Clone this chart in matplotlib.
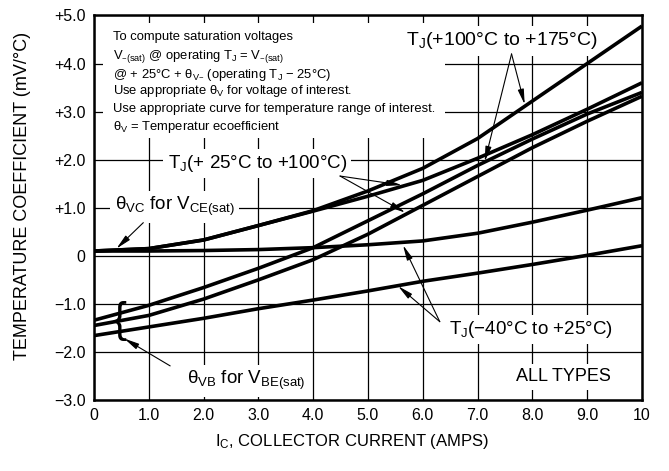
import matplotlib
matplotlib.use("Agg")
import matplotlib.pyplot as plt
from matplotlib.patches import Rectangle

plt.rcParams['font.family'] = ['Liberation Sans', 'DejaVu Sans']
plt.rcParams['mathtext.default'] = 'regular'

# collector current (A)
ic = [0, 1, 2, 3, 4, 5, 6, 7, 8, 9, 10]

# temperature coefficient curves (mV/°C)
vc_100_175 = [0.10, 0.15, 0.33, 0.63, 0.94, 1.35, 1.82, 2.44, 3.22, 4.00, 4.78]
vc_25_100 = [0.10, 0.15, 0.33, 0.63, 0.93, 1.24, 1.57, 2.03, 2.52, 3.05, 3.60]
vc_m40_25 = [0.10, 0.10, 0.11, 0.13, 0.17, 0.23, 0.31, 0.47, 0.70, 0.95, 1.21]
vb_100_175 = [-1.34, -1.03, -0.66, -0.26, 0.17, 0.73, 1.29, 1.88, 2.43, 2.95, 3.40]
vb_25_100 = [-1.45, -1.24, -0.90, -0.50, -0.08, 0.45, 1.05, 1.65, 2.25, 2.80, 3.32]
vb_m40_25 = [-1.66, -1.48, -1.30, -1.10, -0.92, -0.73, -0.53, -0.36, -0.18, 0.01, 0.21]

xticks = [0, 1, 2, 3, 4, 5, 6, 7, 8, 9, 10]
xlabels = ["0", "1.0", "2.0", "3.0", "4.0", "5.0", "6.0", "7.0", "8.0", "9.0", "10"]
yticks = [-3, -2, -1, 0, 1, 2, 3, 4, 5]
ylabels = ["\u22123.0", "\u22122.0", "\u22121.0", "0", "+1.0", "+2.0", "+3.0", "+4.0", "+5.0"]

fig = plt.figure(figsize=(6.69, 4.71), dpi=100)
ax = fig.add_axes([0.1405, 0.1507, 0.8191, 0.8164])

for s in [vc_100_175, vc_25_100, vc_m40_25, vb_100_175, vb_25_100, vb_m40_25]:
    ax.plot(ic, s, color="black", lw=2.6, zorder=5.5, solid_capstyle="butt")

ax.set_xlim(0, 10)
ax.set_ylim(-3, 5)
ax.set_xticks(xticks)
ax.set_xticklabels(xlabels)
ax.set_yticks(yticks)
ax.set_yticklabels(ylabels)
ax.tick_params(length=0, labelsize=11.5, pad=6)
ax.grid(True, color="black", lw=0.9)
for sp in ax.spines.values():
    sp.set_linewidth(1.8)

ax.set_xlabel("$I_C$, COLLECTOR CURRENT (AMPS)", fontsize=12)
ax.xaxis.set_label_coords(0.471, -0.084)
ax.set_ylabel("TEMPERATURE COEFFICIENT (mV/\u00b0C)", fontsize=13)
ax.yaxis.set_label_coords(-0.115, 0.53)

# white area behind the note in the upper left
ax.add_patch(Rectangle((0.17, 2.45), 6.23, 2.4, facecolor="white", edgecolor="none", zorder=2.6))

note = [
    "To compute saturation voltages",
    "$V_{\u2013(sat)}$ @ operating $T_J$ = $V_{\u2013(sat)}$",
    "@ + 25\u00b0C + $\\theta_{V\u2013}$ (operating $T_J$ \u2212 25\u00b0C)",
    "Use appropriate $\\theta_V$ for voltage of interest.",
    "Use appropriate curve for temperature range of interest.",
    "$\\theta_V$ = Temperatur ecoefficient",
]
note_y = [4.55, 4.14, 3.76, 3.42, 3.06, 2.68]
for t, yy in zip(note, note_y):
    ax.text(0.34, yy, t, fontsize=9.4, va="center", ha="left", zorder=5)

box = dict(facecolor="white", edgecolor="none", pad=3)
arrow = dict(arrowstyle="-|>,head_length=0.9,head_width=0.18", color="black", lw=0.8, shrinkA=0, shrinkB=0)

ax.text(7.45, 4.47, "$T_J$(+100\u00b0C to +175\u00b0C)", fontsize=14, ha="center", va="center", zorder=5, bbox=box)
ax.annotate("", xy=(7.86, 3.15), xytext=(7.62, 4.2), arrowprops=arrow, zorder=6)
ax.annotate("", xy=(7.13, 1.96), xytext=(7.62, 4.2), arrowprops=arrow, zorder=6)

ax.text(2.98, 1.92, "$T_J$(+ 25\u00b0C to +100\u00b0C)", fontsize=13.5, ha="center", va="center", zorder=5, bbox=box)
ax.annotate("", xy=(5.62, 1.47), xytext=(4.49, 1.66), arrowprops=arrow, zorder=6)
ax.annotate("", xy=(5.68, 0.90), xytext=(4.49, 1.66), arrowprops=arrow, zorder=6)

ax.text(1.47, 1.02, "$\\theta_{VC}$ for $V_{CE(sat)}$", fontsize=13.5, ha="center", va="center", zorder=5, bbox=box)
ax.annotate("", xy=(0.41, 0.15), xytext=(0.9, 0.69), arrowprops=arrow, zorder=6)

ax.text(7.97, -1.54, "$T_J$(\u221240\u00b0C to +25\u00b0C)", fontsize=13.5, ha="center", va="center", zorder=5, bbox=box)
ax.annotate("", xy=(5.64, 0.22), xytext=(6.31, -1.37), arrowprops=arrow, zorder=6)
ax.annotate("", xy=(5.55, -0.63), xytext=(6.31, -1.37), arrowprops=arrow, zorder=6)

ax.text(2.78, -2.6, "$\\theta_{VB}$ for $V_{BE(sat)}$", fontsize=13.5, ha="center", va="center", zorder=5, bbox=box)
ax.annotate("", xy=(0.55, -1.72), xytext=(1.39, -2.29), arrowprops=arrow, zorder=6)
ax.text(0.47, -1.36, "{", fontsize=30, ha="center", va="center", zorder=6, fontweight="light")

ax.text(8.57, -2.52, "ALL TYPES", fontsize=13, ha="center", va="center", zorder=5, bbox=box)

fig.savefig("out.png", dpi=100)
